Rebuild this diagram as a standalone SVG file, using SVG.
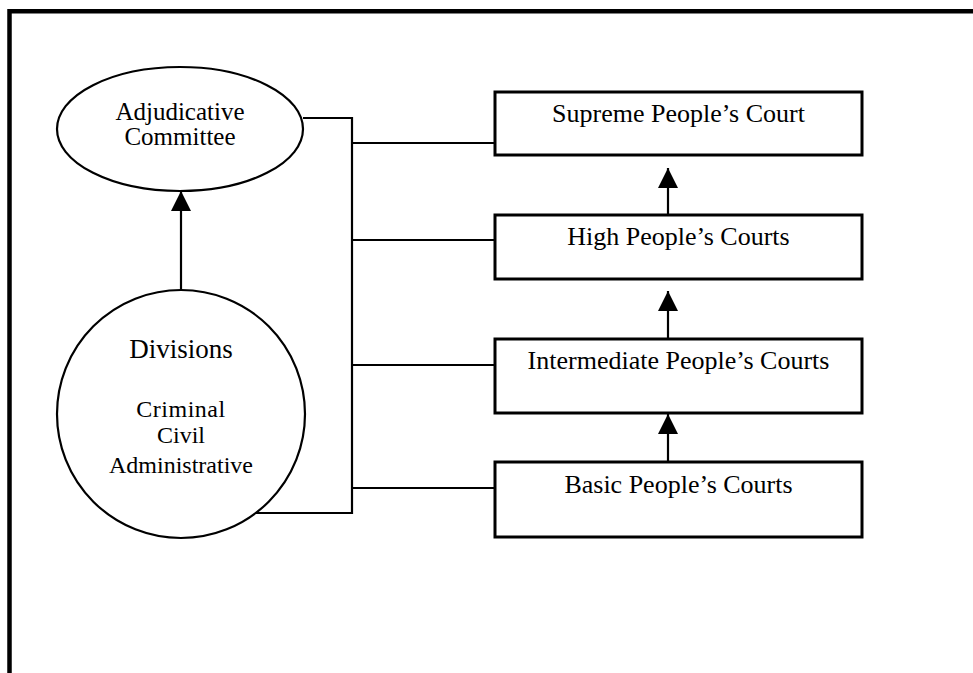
<svg xmlns="http://www.w3.org/2000/svg" width="973" height="673" viewBox="0 0 973 673">
  <style>
    .frame { fill: none; stroke: #000; stroke-width: 4.5; }
    .box { fill: #fff; stroke: #000; stroke-width: 3; }
    .oval { fill: #fff; stroke: #000; stroke-width: 2.2; }
    .wire { fill: none; stroke: #000; stroke-width: 2.2; }
    .arrow { fill: none; stroke: #000; stroke-width: 2.2; marker-end: url(#head); }
    text { font-family: "Liberation Serif", "Times New Roman", serif; fill: #000; text-anchor: middle; }
    .court { font-size: 26px; }
    .title { font-size: 27px; }
    .item { font-size: 24px; }
    .cmt { font-size: 25px; }
  </style>
  <defs>
    <marker id="head" viewBox="0 0 20 20" refX="20" refY="10" markerWidth="20" markerHeight="20" markerUnits="userSpaceOnUse" orient="auto">
      <path d="M0,0 L20,10 L0,20 Z" fill="#000"/>
    </marker>
  </defs>
  <rect width="973" height="673" fill="#fff"/>

  <!-- page frame: top and left edges only -->
  <path class="frame" d="M9.5,673 L9.5,11.2 L973,11.2"/>

  <!-- connectors -->
  <g id="connectors">
    <path class="wire" d="M303,118 L352,118 L352,513 L255.5,513"/>
    <line class="wire" x1="352" y1="143" x2="495" y2="143"/>
    <line class="wire" x1="352" y1="240" x2="495" y2="240"/>
    <line class="wire" x1="352" y1="365" x2="495" y2="365"/>
    <line class="wire" x1="352" y1="488" x2="495" y2="488"/>
    <line class="arrow" x1="181" y1="290" x2="181" y2="191"/>
    <line class="arrow" x1="668" y1="215" x2="668" y2="168"/>
    <line class="arrow" x1="668" y1="339" x2="668" y2="291"/>
    <line class="arrow" x1="668" y1="462" x2="668" y2="414"/>
  </g>

  <g id="adjudicative-committee">
    <ellipse class="oval" cx="180" cy="129" rx="123" ry="62"/>
    <text class="cmt" x="180" y="120">Adjudicative</text>
    <text class="cmt" x="180" y="145">Committee</text>
  </g>

  <g id="divisions">
    <circle class="oval" cx="181" cy="414" r="124"/>
    <text class="title" x="181" y="358">Divisions</text>
    <text class="item" x="181" y="417" letter-spacing="0.5">Criminal</text>
    <text class="item" x="181" y="443">Civil</text>
    <text class="item" x="181" y="473">Administrative</text>
  </g>

  <g id="supreme-court">
    <rect class="box" x="495" y="92" width="367" height="63"/>
    <text class="court" x="678.5" y="122">Supreme People’s Court</text>
  </g>

  <g id="high-courts">
    <rect class="box" x="495" y="215" width="367" height="64"/>
    <text class="court" x="678.5" y="245">High People’s Courts</text>
  </g>

  <g id="intermediate-courts">
    <rect class="box" x="495" y="339" width="367" height="74"/>
    <text class="court" x="678.5" y="369">Intermediate People’s Courts</text>
  </g>

  <g id="basic-courts">
    <rect class="box" x="495" y="462" width="367" height="75"/>
    <text class="court" x="678.5" y="493">Basic People’s Courts</text>
  </g>
</svg>
